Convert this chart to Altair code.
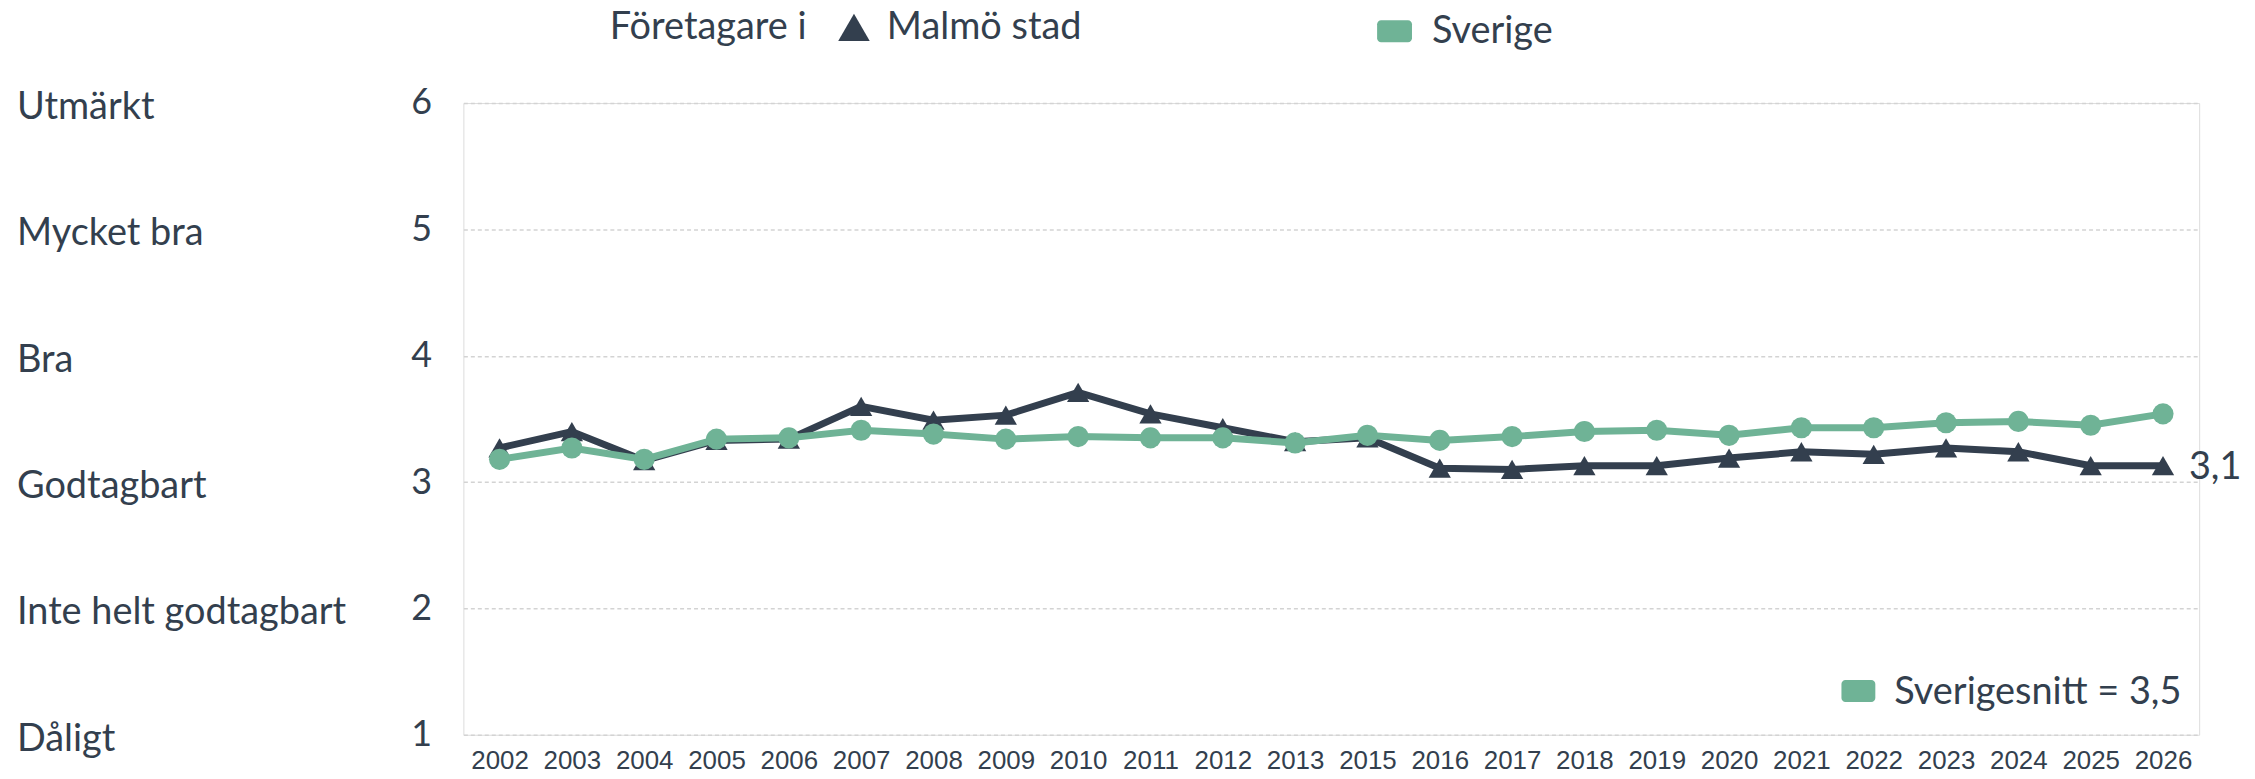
import altair as alt
import pandas as pd

years = ["2002", "2003", "2004", "2005", "2006", "2007", "2008", "2009", "2010", "2011", "2012", "2013",
         "2015", "2016", "2017", "2018", "2019", "2020", "2021", "2022", "2023", "2024", "2025", "2026"]
malmo = [3.27, 3.40, 3.17, 3.33, 3.34, 3.60, 3.49, 3.53, 3.71, 3.54, 3.43, 3.32,
         3.35, 3.11, 3.10, 3.13, 3.13, 3.19, 3.24, 3.22, 3.27, 3.24, 3.13, 3.13]
sverige = [3.18, 3.27, 3.18, 3.34, 3.35, 3.41, 3.38, 3.34, 3.36, 3.35, 3.35, 3.31,
           3.37, 3.33, 3.36, 3.40, 3.41, 3.37, 3.43, 3.43, 3.47, 3.48, 3.45, 3.54]
scale_values = [1, 2, 3, 4, 5, 6]
scale_names = ["Dåligt", "Inte helt godtagbart", "Godtagbart", "Bra", "Mycket bra", "Utmärkt"]
series_names = ["Malmö stad", "Sverige"]
legend_title = "Företagare i"
avg_label = "Sverigesnitt = 3,5"

DARK = "#333f4e"
GREEN = "#6fb396"
TEXT = "#333f4e"
FONT = "Lato"
FS = 38

df_m = pd.DataFrame({"year": years, "value": malmo, "series": series_names[0]})
df_s = pd.DataFrame({"year": years, "value": sverige, "series": series_names[1]})
df_names = pd.DataFrame({"v": scale_values, "name": scale_names})

x_enc = alt.X("year:O", sort=years,
              scale=alt.Scale(type="point", padding=0.5),
              axis=alt.Axis(title=None, labelAngle=0, ticks=False, domain=False, grid=False,
                            labelFont="Liberation Sans", labelFontSize=26, labelColor=TEXT,
                            labelPadding=13, labelBaseline="top"))
y_scale = alt.Scale(domain=[1, 6], nice=False, zero=False)
y_enc = alt.Y("value:Q", scale=y_scale,
              axis=alt.Axis(title=None, values=scale_values, format="d", ticks=False, domain=False,
                            labelFont=FONT, labelFontSize=36, labelColor=TEXT, labelPadding=32,
                            grid=True, gridDash=[4, 3], gridColor="#d3d3d3", gridWidth=1.5))

m_line = alt.Chart(df_m).mark_line(color=DARK, strokeWidth=7).encode(x=x_enc, y=y_enc)
m_pts = alt.Chart(df_m).mark_point(shape="triangle-up", filled=True, opacity=1, color=DARK, size=500).encode(
    x=alt.X("year:O", sort=years), y=alt.Y("value:Q"))
s_line = alt.Chart(df_s).mark_line(color=GREEN, strokeWidth=7).encode(x=alt.X("year:O", sort=years), y=alt.Y("value:Q"))
s_pts = alt.Chart(df_s).mark_point(shape="circle", filled=True, opacity=1, color=GREEN, size=450).encode(
    x=alt.X("year:O", sort=years), y=alt.Y("value:Q"))

end_label = alt.Chart(df_m).transform_window(
    rn="row_number()", sort=[alt.SortField("year", order="descending")]
).transform_filter("datum.rn == 1").transform_calculate(
    lbl="replace(format(floor(datum.value*10)/10, '.1f'), '.', ',')"
).mark_text(align="left", baseline="middle", dx=26, dy=2, font=FONT, fontSize=38, color=TEXT).encode(
    x=alt.X("year:O", sort=years), y=alt.Y("value:Q"), text="lbl:N")

names = alt.Chart(df_names).mark_text(align="left", baseline="middle", dy=5, font=FONT, fontSize=FS, color=TEXT).encode(
    x=alt.value(-448), y=alt.Y("v:Q", scale=y_scale), text="name:N")

one = alt.Data(values=[{"a": 1}])
leg_title = alt.Chart(one).mark_text(align="left", baseline="alphabetic", font=FONT, fontSize=FS, color=TEXT,
                                     text=legend_title).encode(x=alt.value(147), y=alt.value(-64))
leg_tri = alt.Chart(one).mark_point(shape="triangle-up", filled=True, opacity=1, color=DARK, size=1000).encode(
    x=alt.value(392), y=alt.value(-76))
leg_m = alt.Chart(one).mark_text(align="left", baseline="alphabetic", font=FONT, fontSize=FS, color=TEXT,
                                 text=series_names[0]).encode(x=alt.value(425), y=alt.value(-64))
leg_rect = alt.Chart(one).mark_rect(color=GREEN, cornerRadius=4).encode(
    x=alt.value(917), x2=alt.value(952), y=alt.value(-83), y2=alt.value(-61))
leg_s = alt.Chart(one).mark_text(align="left", baseline="alphabetic", font=FONT, fontSize=FS, color=TEXT,
                                 text=series_names[1]).encode(x=alt.value(972), y=alt.value(-60))
avg_rect = alt.Chart(one).mark_rect(color=GREEN, cornerRadius=4).encode(
    x=alt.value(1383), x2=alt.value(1417), y=alt.value(579), y2=alt.value(601))
avg_text = alt.Chart(one).mark_text(align="left", baseline="alphabetic", font=FONT, fontSize=FS, color=TEXT,
                                    text=avg_label).encode(x=alt.value(1436), y=alt.value(603))

chart = alt.layer(
    m_line, m_pts, s_line, s_pts, end_label, names,
    leg_title, leg_tri, leg_m, leg_rect, leg_s, avg_rect, avg_text
).properties(
    width=1742, height=634,
    autosize=alt.AutoSizeParams(type="none"),
    padding={"left": 457, "top": 94, "right": 48, "bottom": 43},
).configure_view(stroke=None).configure(background="white")

chart.save("out.html", embed_options={"renderer": "svg", "actions": False})
